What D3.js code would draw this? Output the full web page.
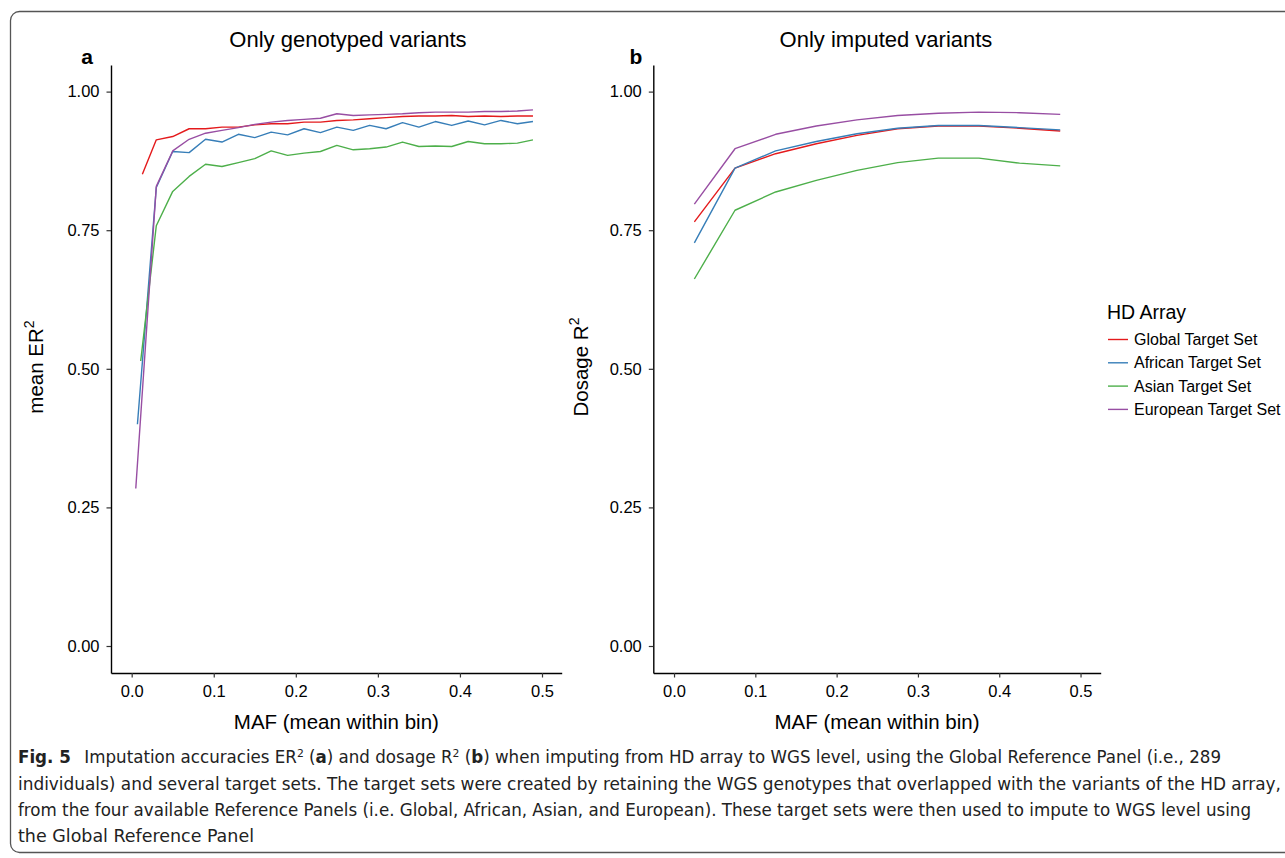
<!DOCTYPE html>
<html>
<head>
<meta charset="utf-8">
<script src="https://cdn.jsdelivr.net/npm/d3@7"></script>
<style>
  html, body { margin: 0; padding: 0; background: #fff; }
  svg { display: block; }
</style>
</head>
<body>
<svg id="fig" width="1285" height="858"></svg>
<script>
// series names and colours (ColorBrewer Set1)
const seriesNames = ['Global Target Set', 'African Target Set', 'Asian Target Set', 'European Target Set'];
const seriesColors = ['#e41a1c', '#377eb8', '#4daf4a', '#984ea3'];

// panel a: only genotyped variants, 0.02-wide MAF bins
const mafA = [0.03, 0.05, 0.07, 0.09, 0.11, 0.13, 0.15, 0.17, 0.19, 0.21, 0.23, 0.25,
  0.27, 0.29, 0.31, 0.33, 0.35, 0.37, 0.39, 0.41, 0.43, 0.45, 0.47, 0.489];
const firstMafA = [0.013, 0.007, 0.011, 0.005]; // mean of first bin differs per set
const globalA = [0.851, 0.913, 0.919, 0.933, 0.933, 0.936, 0.936, 0.940, 0.942, 0.942, 0.945, 0.945,
  0.948, 0.949, 0.951, 0.953, 0.955, 0.956, 0.956, 0.957, 0.955, 0.956, 0.955, 0.956, 0.956];
const africanA = [0.400, 0.827, 0.892, 0.890, 0.914, 0.909, 0.923, 0.917, 0.927, 0.922, 0.933, 0.926,
  0.936, 0.930, 0.939, 0.933, 0.944, 0.936, 0.946, 0.939, 0.947, 0.940, 0.948, 0.942, 0.946];
const asianA = [0.514, 0.758, 0.820, 0.847, 0.869, 0.865, 0.872, 0.879, 0.893, 0.885, 0.889, 0.892,
  0.903, 0.895, 0.897, 0.900, 0.909, 0.901, 0.902, 0.901, 0.910, 0.906, 0.906, 0.907, 0.913];
const europeanA = [0.284, 0.829, 0.893, 0.914, 0.925, 0.930, 0.935, 0.941, 0.945, 0.948, 0.950, 0.952,
  0.960, 0.957, 0.958, 0.959, 0.960, 0.962, 0.963, 0.963, 0.963, 0.964, 0.964, 0.965, 0.967];

// panel b: only imputed variants, 0.05-wide MAF bins
const mafB = [0.025, 0.075, 0.125, 0.175, 0.225, 0.275, 0.325, 0.375, 0.425, 0.475];
const globalB = [0.765, 0.862, 0.888, 0.906, 0.921, 0.933, 0.938, 0.938, 0.934, 0.929];
const africanB = [0.727, 0.862, 0.893, 0.910, 0.924, 0.934, 0.939, 0.939, 0.935, 0.931];
const asianB = [0.662, 0.786, 0.819, 0.840, 0.858, 0.872, 0.880, 0.880, 0.871, 0.866];
const europeanB = [0.797, 0.897, 0.923, 0.938, 0.949, 0.957, 0.961, 0.963, 0.962, 0.959];

const yTicks = [0, 0.25, 0.5, 0.75, 1];
const xTicks = [0, 0.1, 0.2, 0.3, 0.4, 0.5];

const captionLines = [
  'individuals) and several target sets. The target sets were created by retaining the WGS genotypes that overlapped with the variants of the HD array,',
  'from the four available Reference Panels (i.e. Global, African, Asian, and European). These target sets were then used to impute to WGS level using',
  'the Global Reference Panel'
];

const FONT = '"Liberation Sans", Arial, Helvetica, sans-serif';
const CAPFONT = '"Liberation Sans Narrow", "DejaVu Sans Condensed", "Roboto Condensed", sans-serif';

const svg = d3.select('#fig');

// figure frame with rounded corners
svg.append('rect')
  .attr('x', 10.5).attr('y', 11.5)
  .attr('width', 1300).attr('height', 841)
  .attr('rx', 9)
  .attr('fill', 'none')
  .attr('stroke', '#555')
  .attr('stroke-width', 1.3);

const y = d3.scaleLinear().domain([-0.0487, 1.048]).range([673, 65]);

function panel(opts) {
  const x = d3.scaleLinear().domain(opts.xDomain).range(opts.xRange);
  const g = svg.append('g');

  const line = d3.line().x(d => x(d[0])).y(d => y(d[1]));
  opts.data.forEach((pts, i) => {
    g.append('path')
      .datum(pts)
      .attr('fill', 'none')
      .attr('stroke', seriesColors[i])
      .attr('stroke-width', 1.4)
      .attr('stroke-linejoin', 'round')
      .attr('d', line);
  });

  const yAxis = g.append('g')
    .attr('transform', `translate(${opts.xRange[0]},0)`)
    .call(d3.axisLeft(y).tickValues(yTicks).tickFormat(d3.format('.2f')).tickSize(4.5).tickSizeOuter(0).tickPadding(7));
  const xAxis = g.append('g')
    .attr('transform', 'translate(0,673)')
    .call(d3.axisBottom(x).tickValues(xTicks).tickFormat(d3.format('.1f')).tickSize(4.5).tickSizeOuter(0).tickPadding(8));

  [yAxis, xAxis].forEach(ax => {
    ax.attr('font-family', FONT).attr('font-size', 16.5);
    ax.select('.domain').attr('stroke', '#000').attr('stroke-width', 1.4);
    ax.selectAll('.tick line').attr('stroke', '#333').attr('stroke-width', 1.2);
    ax.selectAll('.tick text').attr('fill', '#000');
  });

  // titles and labels
  g.append('text')
    .attr('x', opts.titleX).attr('y', 47)
    .attr('text-anchor', 'middle')
    .attr('font-family', FONT).attr('font-size', 22)
    .text(opts.title);
  g.append('text')
    .attr('x', opts.letterX).attr('y', 64)
    .attr('text-anchor', 'middle')
    .attr('font-family', FONT).attr('font-size', 21).attr('font-weight', 'bold')
    .text(opts.letter);
  g.append('text')
    .attr('x', (opts.xRange[0] + opts.xRange[1]) / 2).attr('y', 729)
    .attr('text-anchor', 'middle')
    .attr('font-family', FONT).attr('font-size', 20.5)
    .text('MAF (mean within bin)');

  const yl = g.append('text')
    .attr('transform', `translate(${opts.yLabelX},367) rotate(-90)`)
    .attr('text-anchor', 'middle')
    .attr('font-family', FONT).attr('font-size', 20.5);
  yl.append('tspan').text(opts.yLabel);
  yl.append('tspan').attr('dy', -9).attr('font-size', 14).text('2');
}

const seriesA = [globalA, africanA, asianA, europeanA];
panel({
  xDomain: [-0.0252, 0.524], xRange: [111, 561.7],
  data: seriesA.map((vals, i) => vals.map((v, j) => [j === 0 ? firstMafA[i] : mafA[j - 1], v])),
  title: 'Only genotyped variants', titleX: 348,
  letter: 'a', letterX: 87,
  yLabel: 'mean ER', yLabelX: 43
});

const seriesB = [globalB, africanB, asianB, europeanB];
panel({
  xDomain: [-0.0255, 0.5248], xRange: [653.3, 1100.7],
  data: seriesB.map(vals => vals.map((v, j) => [mafB[j], v])),
  title: 'Only imputed variants', titleX: 886,
  letter: 'b', letterX: 636,
  yLabel: 'Dosage R', yLabelX: 588
});

// legend
const legend = svg.append('g').attr('transform', 'translate(1107,0)');
legend.append('text')
  .attr('x', 0).attr('y', 318.5)
  .attr('font-family', FONT).attr('font-size', 19.5)
  .text('HD Array');
const item = legend.selectAll('g.item')
  .data(seriesNames)
  .join('g')
  .attr('class', 'item')
  .attr('transform', (d, i) => `translate(0,${339.5 + i * 23.3})`);
item.append('line')
  .attr('x1', 1).attr('x2', 21)
  .attr('stroke', (d, i) => seriesColors[i])
  .attr('stroke-width', 1.4);
item.append('text')
  .attr('x', 27).attr('y', 5.6)
  .attr('font-family', FONT).attr('font-size', 16)
  .text(d => d);

// caption
const cap = svg.append('g').attr('font-family', CAPFONT).attr('font-size', 17).attr('fill', '#222');
const l1 = cap.append('text').attr('x', 18).attr('y', 763).attr('textLength', 1203).attr('lengthAdjust', 'spacingAndGlyphs');
l1.append('tspan').attr('font-weight', 'bold').text('Fig. 5');
l1.append('tspan').text('\u2002 Imputation accuracies ER');
l1.append('tspan').attr('dy', -6).attr('font-size', 11).text('2');
l1.append('tspan').attr('dy', 6).text(' (');
l1.append('tspan').attr('font-weight', 'bold').text('a');
l1.append('tspan').text(') and dosage R');
l1.append('tspan').attr('dy', -6).attr('font-size', 11).text('2');
l1.append('tspan').attr('dy', 6).text(' (');
l1.append('tspan').attr('font-weight', 'bold').text('b');
l1.append('tspan').text(') when imputing from HD array to WGS level, using the Global Reference Panel (i.e., 289');

const capEnds = [1281, 1251, 254];
captionLines.forEach((t, i) => {
  cap.append('text')
    .attr('x', 18).attr('y', 789.5 + i * 26.3)
    .attr('textLength', capEnds[i] - 18)
    .attr('lengthAdjust', 'spacingAndGlyphs')
    .text(t);
});
</script>
</body>
</html>
